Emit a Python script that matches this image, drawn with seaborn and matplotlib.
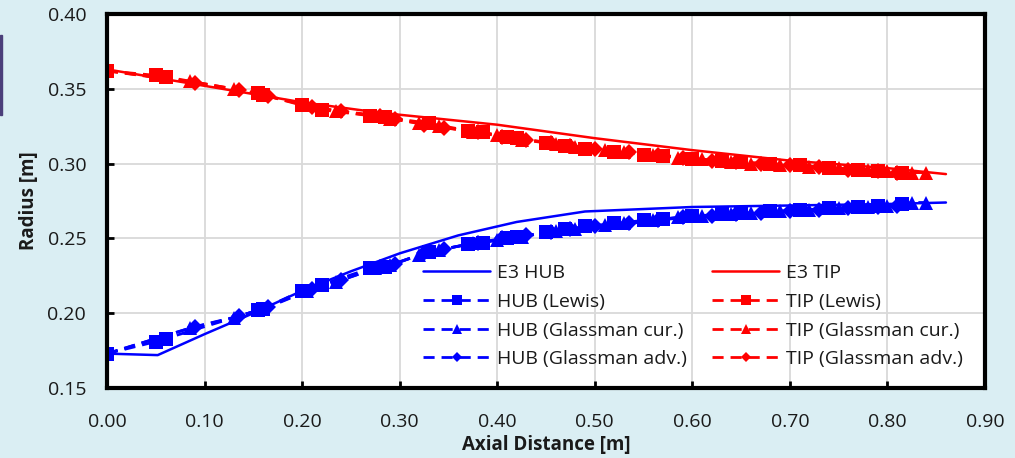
import numpy as np
import pandas as pd
import matplotlib
matplotlib.use('Agg')
import matplotlib.pyplot as plt
import seaborn as sns

# E3 reference geometry (solid lines)
e3_hub_x = [0.00, 0.052, 0.10, 0.15, 0.20, 0.25, 0.30, 0.36, 0.42, 0.49, 0.60, 0.70, 0.80, 0.86]
e3_hub_r = [0.173, 0.172, 0.186, 0.200, 0.215, 0.228, 0.240, 0.252, 0.261, 0.268, 0.271, 0.272, 0.273, 0.274]
e3_tip_x = [0.00, 0.10, 0.20, 0.28, 0.40, 0.50, 0.60, 0.70, 0.80, 0.86]
e3_tip_r = [0.363, 0.352, 0.341, 0.334, 0.326, 0.317, 0.309, 0.302, 0.297, 0.293]

# Lewis method
lewis_x = [0.00, 0.05, 0.06, 0.155, 0.16, 0.20, 0.22, 0.27, 0.285, 0.33, 0.37, 0.385, 0.41, 0.42,
           0.45, 0.47, 0.49, 0.52, 0.55, 0.57, 0.60, 0.63, 0.65, 0.68, 0.71, 0.74, 0.77, 0.79, 0.815]
lewis_hub = [0.173, 0.181, 0.183, 0.202, 0.203, 0.215, 0.219, 0.230, 0.231, 0.241, 0.246, 0.247, 0.250, 0.251,
             0.254, 0.256, 0.258, 0.260, 0.262, 0.263, 0.265, 0.266, 0.267, 0.268, 0.269, 0.270, 0.271, 0.272, 0.273]
lewis_tip = [0.362, 0.359, 0.358, 0.347, 0.346, 0.339, 0.336, 0.332, 0.331, 0.327, 0.322, 0.321, 0.318, 0.317,
             0.314, 0.312, 0.310, 0.308, 0.306, 0.305, 0.303, 0.302, 0.301, 0.300, 0.299, 0.297, 0.296, 0.295, 0.294]

# Glassman current
gcur_x = [0.00, 0.085, 0.13, 0.16, 0.205, 0.235, 0.275, 0.29, 0.32, 0.34, 0.375, 0.40, 0.425, 0.46, 0.48,
          0.51, 0.53, 0.56, 0.585, 0.61, 0.64, 0.66, 0.69, 0.72, 0.75, 0.78, 0.80, 0.825, 0.84]
gcur_hub = [0.173, 0.190, 0.197, 0.203, 0.215, 0.221, 0.230, 0.232, 0.239, 0.242, 0.247, 0.249, 0.251, 0.255, 0.256,
            0.259, 0.260, 0.262, 0.264, 0.265, 0.266, 0.267, 0.268, 0.269, 0.270, 0.271, 0.272, 0.274, 0.274]
gcur_tip = [0.362, 0.355, 0.350, 0.346, 0.339, 0.335, 0.332, 0.330, 0.327, 0.325, 0.321, 0.319, 0.316, 0.313, 0.311,
            0.309, 0.308, 0.306, 0.304, 0.303, 0.301, 0.300, 0.299, 0.298, 0.297, 0.296, 0.295, 0.294, 0.294]

# Glassman advanced
gadv_x = [0.00, 0.09, 0.135, 0.165, 0.21, 0.24, 0.28, 0.295, 0.325, 0.345, 0.38, 0.405, 0.43, 0.455, 0.475,
          0.50, 0.535, 0.565, 0.59, 0.62, 0.645, 0.67, 0.70, 0.73, 0.76, 0.79, 0.81]
gadv_hub = [0.173, 0.191, 0.198, 0.204, 0.216, 0.222, 0.231, 0.233, 0.240, 0.243, 0.247, 0.250, 0.252, 0.254, 0.256,
            0.258, 0.260, 0.262, 0.264, 0.265, 0.266, 0.267, 0.268, 0.269, 0.270, 0.271, 0.272]
gadv_tip = [0.362, 0.354, 0.349, 0.345, 0.338, 0.335, 0.332, 0.330, 0.326, 0.324, 0.321, 0.318, 0.316, 0.314, 0.312,
            0.310, 0.308, 0.306, 0.304, 0.302, 0.301, 0.300, 0.299, 0.298, 0.296, 0.295, 0.294]

x_ticks = [0.0, 0.1, 0.2, 0.3, 0.4, 0.5, 0.6, 0.7, 0.8, 0.9]
y_ticks = [0.15, 0.20, 0.25, 0.30, 0.35, 0.40]

sns.set_style("whitegrid")
plt.rcParams['font.family'] = ['Open Sans', 'DejaVu Sans']

bg = '#DAEEF3'
fig = plt.figure(figsize=(10.15, 4.58), dpi=100, facecolor=bg)
ax = fig.add_axes([0.1054, 0.1528, 0.8650, 0.8166])
ax.set_facecolor('white')

# small dark strip at the left edge of the original picture
fig.patches.append(plt.Rectangle((0, 1 - 115 / 458), 2 / 1015, 80 / 458,
                                 transform=fig.transFigure, color='#4B3F7A', zorder=0))

dash = (0, (4, 2.5))
ms = 10.5
lw_d = 2.0

sns.lineplot(x=e3_hub_x, y=e3_hub_r, ax=ax, color='#0000FF', lw=1.8, label='E3 HUB', estimator=None)
sns.lineplot(x=lewis_x, y=lewis_hub, ax=ax, color='#0000FF', lw=lw_d, linestyle=dash, marker='s',
             markersize=ms, markeredgewidth=0, label='HUB (Lewis)', estimator=None)
sns.lineplot(x=gcur_x, y=gcur_hub, ax=ax, color='#0000FF', lw=lw_d, linestyle=dash, marker='^',
             markersize=ms, markeredgewidth=0, label='HUB (Glassman cur.)', estimator=None)
sns.lineplot(x=gadv_x, y=gadv_hub, ax=ax, color='#0000FF', lw=lw_d, linestyle=dash, marker='D',
             markersize=ms * 0.75, markeredgewidth=0, label='HUB (Glassman adv.)', estimator=None)
sns.lineplot(x=e3_tip_x, y=e3_tip_r, ax=ax, color='#FF0000', lw=1.8, label='E3 TIP', estimator=None)
sns.lineplot(x=lewis_x, y=lewis_tip, ax=ax, color='#FF0000', lw=lw_d, linestyle=dash, marker='s',
             markersize=ms, markeredgewidth=0, label='TIP (Lewis)', estimator=None)
sns.lineplot(x=gcur_x, y=gcur_tip, ax=ax, color='#FF0000', lw=lw_d, linestyle=dash, marker='^',
             markersize=ms, markeredgewidth=0, label='TIP (Glassman cur.)', estimator=None)
sns.lineplot(x=gadv_x, y=gadv_tip, ax=ax, color='#FF0000', lw=lw_d, linestyle=dash, marker='D',
             markersize=ms * 0.75, markeredgewidth=0, label='TIP (Glassman adv.)', estimator=None)

ax.set_xlim(0, 0.9)
ax.set_ylim(0.15, 0.40)
ax.set_xticks(x_ticks)
ax.set_yticks(y_ticks)
ax.set_xticklabels([f'{v:.2f}' for v in x_ticks])
ax.set_yticklabels([f'{v:.2f}' for v in y_ticks])
ax.grid(True, color='#D9D9D9', lw=1.3)
ax.tick_params(axis='both', direction='in', length=5, width=2, color='black',
               labelsize=14, labelcolor='#1A1A1A', left=True, bottom=True)
ax.tick_params(axis='x', pad=18)
ax.tick_params(axis='y', pad=15)
for s in ax.spines.values():
    s.set_color('black')
    s.set_linewidth(3)

ax.set_xlabel('Axial Distance [m]', fontsize=13.5, fontweight='bold', labelpad=3, color='#1A1A1A')
ax.set_ylabel('Radius [m]', fontsize=13.5, fontweight='bold', labelpad=6, color='#1A1A1A')

handles, labels = ax.get_legend_handles_labels()
ax.legend(handles, labels, ncol=2, loc='lower right', bbox_to_anchor=(0.995, 0.006),
          frameon=False, fontsize=14, handlelength=3.45, handletextpad=0.35,
          columnspacing=1.3, labelspacing=0.55, markerscale=0.7, labelcolor='#1A1A1A')

fig.savefig('out.png', dpi=100, facecolor=bg)
